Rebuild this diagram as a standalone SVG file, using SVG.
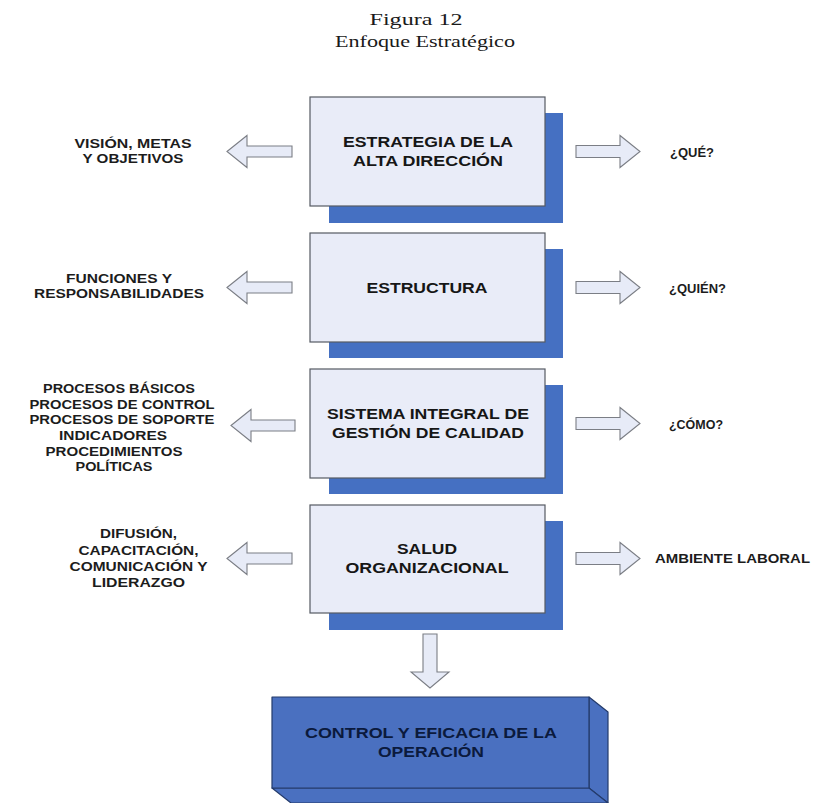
<svg xmlns="http://www.w3.org/2000/svg" width="815" height="803" viewBox="0 0 815 803">
  <style>
    .title { font-family: "Liberation Serif", "Times New Roman", serif; font-size: 17px; fill: #1a1a1a; text-anchor: middle; }
    .box { fill: #e9ecf8; stroke: #555a63; stroke-width: 1.2; }
    .shadow { fill: #4570c2; }
    .boxtxt { font-family: "Liberation Sans", Arial, sans-serif; font-weight: bold; font-size: 15px; fill: #161616; text-anchor: middle; }
    .lbl { font-family: "Liberation Sans", Arial, sans-serif; font-weight: bold; font-size: 13.5px; fill: #1c1c1c; text-anchor: middle; }
    .rlbl { font-family: "Liberation Sans", Arial, sans-serif; font-weight: bold; font-size: 13.5px; fill: #1c1c1c; text-anchor: start; }
    .arrow { fill: #e7ebf7; stroke: #7b7e85; stroke-width: 1.1; stroke-linejoin: miter; }
    .cube { fill: #4a70c0; stroke: #243b6b; stroke-width: 1.2; stroke-linejoin: round; }
    .cubetxt { font-family: "Liberation Sans", Arial, sans-serif; font-weight: bold; font-size: 15px; fill: #0b1a3d; text-anchor: middle; }
  </style>

  <!-- heading -->
  <g id="heading">
    <text class="title" x="416" y="25" textLength="93" lengthAdjust="spacingAndGlyphs">Figura 12</text>
    <text class="title" x="425" y="47" textLength="180" lengthAdjust="spacingAndGlyphs">Enfoque Estratégico</text>
  </g>

  <!-- central column of stacked boxes -->
  <g id="estrategia">
    <rect class="shadow" x="329" y="113" width="234" height="110"/>
    <rect class="box" x="310" y="97" width="235" height="109"/>
    <text class="boxtxt" x="428" y="147" textLength="170" lengthAdjust="spacingAndGlyphs">ESTRATEGIA DE LA</text>
    <text class="boxtxt" x="428" y="166" textLength="150" lengthAdjust="spacingAndGlyphs">ALTA DIRECCIÓN</text>
  </g>

  <g id="estructura">
    <rect class="shadow" x="329" y="249" width="234" height="109"/>
    <rect class="box" x="310" y="233" width="235" height="109"/>
    <text class="boxtxt" x="427" y="292.5" textLength="121" lengthAdjust="spacingAndGlyphs">ESTRUCTURA</text>
  </g>

  <g id="sistema">
    <rect class="shadow" x="329" y="385" width="234" height="109"/>
    <rect class="box" x="310" y="369" width="235" height="109"/>
    <text class="boxtxt" x="428" y="419" textLength="202" lengthAdjust="spacingAndGlyphs">SISTEMA INTEGRAL DE</text>
    <text class="boxtxt" x="428" y="438" textLength="192" lengthAdjust="spacingAndGlyphs">GESTIÓN DE CALIDAD</text>
  </g>

  <g id="salud">
    <rect class="shadow" x="329" y="521" width="234" height="109"/>
    <rect class="box" x="310" y="505" width="235" height="108"/>
    <text class="boxtxt" x="427" y="554" textLength="60" lengthAdjust="spacingAndGlyphs">SALUD</text>
    <text class="boxtxt" x="427" y="573" textLength="163" lengthAdjust="spacingAndGlyphs">ORGANIZACIONAL</text>
  </g>

  <!-- result block drawn as a solid with depth faces -->
  <g id="control">
    <polygon class="cube" points="589,697 608,712 608,803 589,788"/>
    <polygon class="cube" points="272,788 589,788 608,803 291,803"/>
    <rect class="cube" x="272" y="697" width="317" height="91"/>
    <text class="cubetxt" x="431" y="738" textLength="252" lengthAdjust="spacingAndGlyphs">CONTROL Y EFICACIA DE LA</text>
    <text class="cubetxt" x="431" y="757" textLength="106" lengthAdjust="spacingAndGlyphs">OPERACIÓN</text>
  </g>

  <!-- side labels, left -->
  <g id="vision">
    <text class="lbl" x="133" y="148" textLength="117" lengthAdjust="spacingAndGlyphs">VISIÓN, METAS</text>
    <text class="lbl" x="133" y="163" textLength="101" lengthAdjust="spacingAndGlyphs">Y OBJETIVOS</text>
  </g>
  <g id="funciones">
    <text class="lbl" x="119" y="283" textLength="106" lengthAdjust="spacingAndGlyphs">FUNCIONES Y</text>
    <text class="lbl" x="119" y="298" textLength="170" lengthAdjust="spacingAndGlyphs">RESPONSABILIDADES</text>
  </g>
  <g id="procesos">
    <text class="lbl" x="119" y="393" textLength="152" lengthAdjust="spacingAndGlyphs">PROCESOS BÁSICOS</text>
    <text class="lbl" x="122" y="408.5" textLength="185" lengthAdjust="spacingAndGlyphs">PROCESOS DE CONTROL</text>
    <text class="lbl" x="122" y="424" textLength="185" lengthAdjust="spacingAndGlyphs">PROCESOS DE SOPORTE</text>
    <text class="lbl" x="113" y="440" textLength="108" lengthAdjust="spacingAndGlyphs">INDICADORES</text>
    <text class="lbl" x="114" y="455.5" textLength="137" lengthAdjust="spacingAndGlyphs">PROCEDIMIENTOS</text>
    <text class="lbl" x="114" y="471" textLength="77" lengthAdjust="spacingAndGlyphs">POLÍTICAS</text>
  </g>
  <g id="difusion">
    <text class="lbl" x="138.5" y="538" textLength="77" lengthAdjust="spacingAndGlyphs">DIFUSIÓN,</text>
    <text class="lbl" x="138.5" y="554.5" textLength="120" lengthAdjust="spacingAndGlyphs">CAPACITACIÓN,</text>
    <text class="lbl" x="138.5" y="571" textLength="138" lengthAdjust="spacingAndGlyphs">COMUNICACIÓN Y</text>
    <text class="lbl" x="138.5" y="587" textLength="93" lengthAdjust="spacingAndGlyphs">LIDERAZGO</text>
  </g>

  <!-- side labels, right -->
  <g id="que">
    <text class="rlbl" x="670" y="157" textLength="44" lengthAdjust="spacingAndGlyphs">¿QUÉ?</text>
  </g>
  <g id="quien">
    <text class="rlbl" x="669" y="293" textLength="57" lengthAdjust="spacingAndGlyphs">¿QUIÉN?</text>
  </g>
  <g id="como">
    <text class="rlbl" x="669" y="429" textLength="54" lengthAdjust="spacingAndGlyphs">¿CÓMO?</text>
  </g>
  <g id="ambiente">
    <text class="rlbl" x="655" y="563" textLength="155" lengthAdjust="spacingAndGlyphs">AMBIENTE LABORAL</text>
  </g>

  <!-- block arrows -->
  <g id="connectors">
    <path class="arrow" d="M227,151.5 L247,135.5 L247,146 L292,146 L292,157 L247,157 L247,167.5 Z"/>
    <path class="arrow" d="M576,145.5 L620,145.5 L620,135.5 L640,151.5 L620,167.5 L620,157.5 L576,157.5 Z"/>

    <path class="arrow" d="M227,287.5 L247,271.5 L247,282 L292,282 L292,293 L247,293 L247,303.5 Z"/>
    <path class="arrow" d="M576,281.5 L620,281.5 L620,271.5 L640,287.5 L620,303.5 L620,293.5 L576,293.5 Z"/>

    <path class="arrow" d="M231,425.5 L251,409.5 L251,420 L295,420 L295,431 L251,431 L251,441.5 Z"/>
    <path class="arrow" d="M576,417.5 L620,417.5 L620,407.5 L640,423.5 L620,439.5 L620,429.5 L576,429.5 Z"/>

    <path class="arrow" d="M227,558.5 L247,542.5 L247,553 L292,553 L292,564 L247,564 L247,574.5 Z"/>
    <path class="arrow" d="M576,552.5 L620,552.5 L620,542.5 L640,558.5 L620,574.5 L620,564.5 L576,564.5 Z"/>

    <path class="arrow" d="M423,634 L437,634 L437,672 L449,672 L430,688 L411,672 L423,672 Z"/>
  </g>
</svg>
